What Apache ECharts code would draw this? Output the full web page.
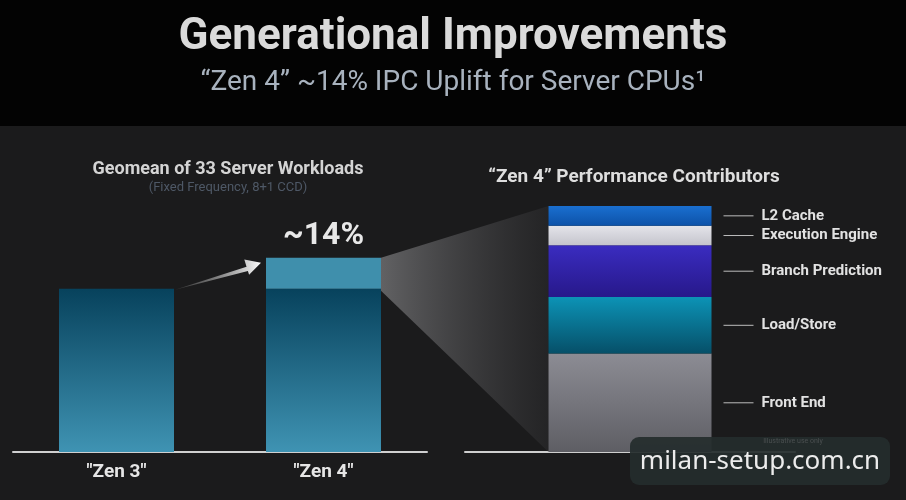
<!DOCTYPE html>
<html>
<head>
<meta charset="utf-8">
<script src="https://cdn.jsdelivr.net/npm/echarts@6/dist/echarts.min.js"></script>
<style>
  * { margin: 0; padding: 0; }
  body { background: #1b1b1c; }
  #chart { width: 906px; height: 500px; }
</style>
</head>
<body>
<div id="chart"></div>
<script>
  // left chart: geomean of server workloads
  const gens = ['"Zen 3"', '"Zen 4"'];
  const baseValues = [100, 100];
  const upliftValues = ['-', 19];
  const upliftLabel = '~14%';

  // right chart: zen 4 contributors (share of uplift, bottom to top)
  const parts = ['Front End', 'Load/Store', 'Branch Prediction', 'Execution Engine', 'L2 Cache'];
  const shares = [40, 23, 21, 8, 8];

  const partColors = [
    ['#8c8c94', '#5e5e64'],
    ['#0c93b6', '#064f68'],
    ['#3a2cc0', '#27188a'],
    ['#e4e4ea', '#c4c4cc'],
    ['#1a6fd0', '#0d52a8']
  ];

  function vgrad(top, bottom) {
    return new echarts.graphic.LinearGradient(0, 0, 0, 1, [
      { offset: 0, color: top },
      { offset: 1, color: bottom }
    ]);
  }

  const chart = echarts.init(document.getElementById('chart'));

  const rightSeries = parts.map(function (name, i) {
    return {
      name: name,
      type: 'bar',
      stack: 'parts',
      xAxisIndex: 1,
      yAxisIndex: 1,
      barWidth: 163,
      data: [shares[i]],
      itemStyle: { color: vgrad(partColors[i][0], partColors[i][1]) },
      label: {
        show: true,
        position: 'right',
        distance: 50,
        formatter: name,
        color: '#e2e2e2',
        fontFamily: 'Roboto',
        fontWeight: 'bold',
        fontSize: 15
      }
    };
  });

  const option = {
    backgroundColor: '#1b1b1c',
    animation: false,
    title: [
      {
        text: 'Generational Improvements',
        left: 'center',
        top: 11,
        textStyle: { color: '#dadada', fontFamily: 'Roboto', fontWeight: 'bold', fontSize: 44 }
      },
      {
        text: '\u201cZen 4\u201d ~14% IPC Uplift for Server CPUs\u00b9',
        left: 'center',
        top: 64,
        textStyle: { color: '#a8b2be', fontFamily: 'Roboto', fontWeight: 'normal', fontSize: 28 }
      },
      {
        text: 'Geomean of 33 Server Workloads',
        subtext: '(Fixed Frequency, 8+1 CCD)',
        left: 223,
        textAlign: 'center',
        top: 155,
        itemGap: 3,
        textStyle: { color: '#d4d4d4', fontFamily: 'Roboto', fontWeight: 'bold', fontSize: 18 },
        subtextStyle: { color: '#4e5866', fontFamily: 'Roboto', fontSize: 13 }
      },
      {
        text: '\u201cZen 4\u201d Performance Contributors',
        left: 629,
        textAlign: 'center',
        top: 163,
        textStyle: { color: '#dedede', fontFamily: 'Roboto', fontWeight: 'bold', fontSize: 19 }
      }
    ],
    grid: [
      { left: 13, width: 414, top: 207, bottom: 48 },
      { left: 465, width: 330, top: 206, bottom: 48 }
    ],
    xAxis: [
      {
        type: 'category',
        gridIndex: 0,
        data: gens,
        axisLine: { lineStyle: { color: '#d0d0d0', width: 2 } },
        axisTick: { show: false },
        axisLabel: { color: '#e6e6e6', fontFamily: 'Roboto', fontWeight: 'bold', fontSize: 19, margin: 11 }
      },
      {
        type: 'category',
        gridIndex: 1,
        data: ['"Zen 4"'],
        axisLine: { lineStyle: { color: '#cfcfcf', width: 2 } },
        axisTick: { show: false },
        axisLabel: { show: false }
      }
    ],
    yAxis: [
      { type: 'value', gridIndex: 0, min: 0, max: 150, show: false },
      { type: 'value', gridIndex: 1, min: 0, max: 100, show: false }
    ],
    series: [
      {
        name: 'base',
        type: 'bar',
        stack: 'gen',
        barWidth: 115,
        data: baseValues,
        itemStyle: { color: vgrad('#07425c', '#3f93b3') },
        z: 3
      },
      {
        name: 'uplift',
        type: 'bar',
        stack: 'gen',
        barWidth: 115,
        data: upliftValues,
        itemStyle: { color: '#3f8fac' },
        label: {
          show: true,
          position: 'top',
          distance: 6,
          formatter: upliftLabel,
          color: '#e8e8e8',
          fontFamily: 'Roboto',
          fontWeight: 'bold',
          fontSize: 32
        },
        z: 3
      }
    ].concat(rightSeries)
  };

  chart.setOption(option);

  // decorations placed from the axes' own pixel mapping
  const half = 115 / 2;
  const z3 = chart.convertToPixel({ gridIndex: 0 }, [0, baseValues[0]]);
  const z4top = chart.convertToPixel({ gridIndex: 0 }, [1, baseValues[1] + upliftValues[1]]);
  const z4base = chart.convertToPixel({ gridIndex: 0 }, [1, baseValues[1]]);
  const rTop = chart.convertToPixel({ gridIndex: 1 }, [0, 100]);
  const rBot = chart.convertToPixel({ gridIndex: 1 }, [0, 0]);
  const rLeft = rTop[0] - 163 / 2;
  const rRight = rTop[0] + 163 / 2;

  const graphics = [
    {
      type: 'rect', z: -10, silent: true,
      shape: { x: 0, y: 0, width: 906, height: 126 },
      style: { fill: '#030303' }
    },
    {
      type: 'polygon', z: 1, silent: true,
      shape: {
        points: [
          [z4top[0] + half, z4top[1]],
          [rLeft, rTop[1]],
          [rLeft, rBot[1]],
          [z4top[0] + half, z4base[1] + 2]
        ]
      },
      style: {
        fill: new echarts.graphic.LinearGradient(0, 0, 1, 0, [
          { offset: 0, color: 'rgba(110,110,112,0.85)' },
          { offset: 1, color: 'rgba(45,45,47,0.5)' }
        ])
      }
    }
  ];

  // arrow from Zen 3 top to Zen 4 top
  const ax0 = z3[0] + half + 1, ay0 = z3[1] + 1;
  const ax1 = z4top[0] - half - 5, ay1 = z4top[1] + 5;
  const dx = ax1 - ax0, dy = ay1 - ay0;
  const len = Math.sqrt(dx * dx + dy * dy);
  const ux = dx / len, uy = dy / len, nx = -uy, ny = ux;
  const headLen = 15, shaftW = 4, headW = 8;
  const bx = ax1 - ux * headLen, by = ay1 - uy * headLen;
  graphics.push({
    type: 'polygon', z: 4, silent: true,
    shape: {
      points: [
        [ax0, ay0],
        [bx + nx * shaftW, by + ny * shaftW],
        [bx + nx * headW, by + ny * headW],
        [ax1, ay1],
        [bx - nx * headW, by - ny * headW],
        [bx - nx * 0.5, by - ny * 0.5]
      ]
    },
    style: {
      fill: new echarts.graphic.LinearGradient(0, 0, 1, 0, [
        { offset: 0, color: 'rgba(120,120,120,0.3)' },
        { offset: 1, color: '#ffffff' }
      ])
    }
  });

  // leader lines for the contributor labels
  let acc = 0;
  shares.forEach(function (v) {
    const mid = chart.convertToPixel({ gridIndex: 1 }, [0, acc + v / 2]);
    acc += v;
    graphics.push({
      type: 'line', z: 4, silent: true,
      shape: { x1: rRight + 12, y1: mid[1], x2: rRight + 42, y2: mid[1] },
      style: { stroke: '#bdbdbd', lineWidth: 1 }
    });
  });

  // small footnote and site watermark
  graphics.push(
    {
      type: 'rect', z: 6, silent: true,
      shape: { x: 630, y: 437, width: 260, height: 48, r: 9 },
      style: { fill: 'rgba(36,44,44,0.92)' }
    },
    {
      type: 'text', z: 7, silent: true,
      style: { x: 793, y: 441, text: 'Illustrative use only', fill: '#4a4f50', font: '7px Roboto', align: 'center', verticalAlign: 'middle' }
    },
    {
      type: 'text', z: 7, silent: true,
      style: { x: 760, y: 462, text: 'milan-setup.com.cn', fill: '#ececec', font: '26px "Noto Sans"', align: 'center', verticalAlign: 'middle' }
    }
  );

  chart.setOption({ graphic: graphics });
</script>
</body>
</html>
